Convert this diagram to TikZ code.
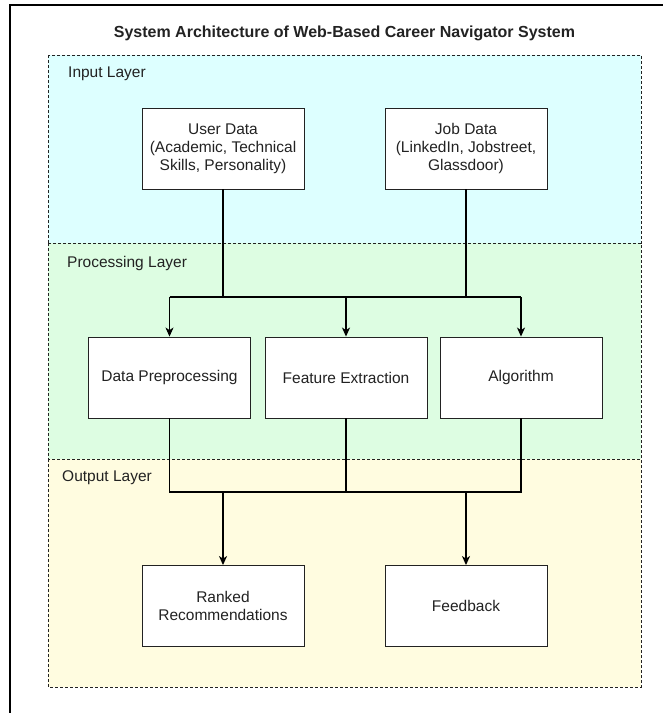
\documentclass[tikz,border=0pt]{standalone}
\usepackage{fontspec}
\setmainfont{Liberation Sans}
\usetikzlibrary{arrows.meta}
\definecolor{inputfill}{RGB}{221,255,255}
\definecolor{procfill}{RGB}{221,253,226}
\definecolor{outfill}{RGB}{255,252,224}
\definecolor{ink}{RGB}{34,34,34}
\begin{document}
\begin{tikzpicture}[x=1pt,y=-1pt,
  layer/.style={draw=ink, dash pattern=on 3pt off 2pt, line width=0.9pt},
  box/.style={draw=ink, fill=white, line width=0.9pt, minimum width=162pt,
    minimum height=81pt, align=center, inner sep=0pt, text=ink,
    font=\fontsize{15.5}{18}\selectfont},
  layerlabel/.style={anchor=west, inner sep=0pt, text=ink,
    font=\fontsize{15.5}{18}\selectfont},
  link/.style={line width=1.1pt, black},
  arr/.style={link, -{Stealth[length=9pt,width=8pt,inset=2.5pt]}}]

\useasboundingbox (0,0) rectangle (663,713);

% outer frame (runs off the page at right and bottom)
\begin{scope}
  \clip (0,0) rectangle (663,713);
  \draw[line width=1.5pt, black] (10,730) -- (10,5) -- (680,5);
\end{scope}

% title
\node[font=\bfseries\fontsize{16}{19}\selectfont, text=ink] (title) at (344.5,33)
  {System Architecture of Web-Based Career Navigator System};

% layers
\filldraw[layer, fill=inputfill] (48,55) rectangle (641,243);
\filldraw[layer, fill=procfill] (48,243) rectangle (641,459);
\filldraw[layer, fill=outfill] (48,459) rectangle (641,687);

\node[layerlabel] (inlabel) at (68,74) {Input Layer};
\node[layerlabel] (proclabel) at (67,263) {Processing Layer};
\node[layerlabel] (outlabel) at (62,478) {Output Layer};

% input boxes
\node[box] (user) at (223,148.5) {User Data\\(Academic, Technical\\Skills, Personality)};
\node[box] (job) at (466,148.5) {Job Data\\(LinkedIn, Jobstreet,\\Glassdoor)};

% processing boxes
\node[box] (pre) at (169.5,377.5) {Data Preprocessing};
\node[box] (feat) at (346,377.5) {Feature Extraction};
\node[box] (alg) at (521,377.5) {Algorithm};

% output boxes
\node[box] (rank) at (223,606) {Ranked\\Recommendations};
\node[box] (fb) at (466,606) {Feedback};

% input -> processing
\coordinate (busin) at (0,297);
\draw[link] (user) -- (user |- busin);
\draw[link] (job) -- (job |- busin);
\draw[link] (pre |- busin) -- (alg |- busin);
\draw[arr] (pre |- busin) -- (pre);
\draw[arr] (feat |- busin) -- (feat);
\draw[arr] (alg |- busin) -- (alg);

% processing -> output
\coordinate (busout) at (0,492);
\draw[link] (pre) -- (pre |- busout) -- (alg |- busout) -- (alg);
\draw[link] (feat) -- (feat |- busout);
\draw[arr] (rank |- busout) -- (rank);
\draw[arr] (fb |- busout) -- (fb);
\end{tikzpicture}
\end{document}
